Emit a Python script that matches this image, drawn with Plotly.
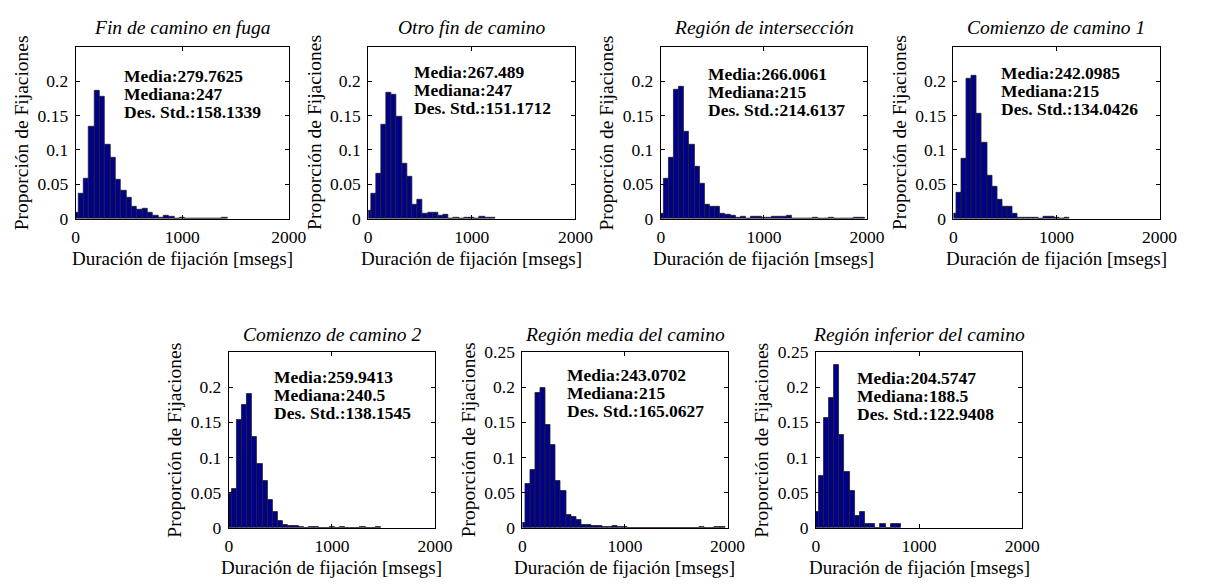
import plotly.graph_objects as go

W, H = 1209, 588

# ---------------- data ----------------
bin_centers = [0, 50, 100, 150, 200, 250, 300, 350, 400, 450, 500, 550, 600, 650, 700,
               750, 800, 850, 900, 950, 1000, 1050, 1100, 1150, 1200, 1250, 1300, 1350,
               1400, 1450, 1500, 1550, 1600, 1650, 1700, 1750, 1800, 1850, 1900, 1950]

titles = ["Fin de camino en fuga", "Otro fin de camino", "Región de intersección",
          "Comienzo de camino 1", "Comienzo de camino 2", "Región media del camino",
          "Región inferior del camino"]

fin_fuga = [0.008, 0.037, 0.058, 0.134, 0.186, 0.178, 0.107, 0.088, 0.056, 0.040, 0.031,
            0.018, 0.013, 0.015, 0.008, 0.005, 0.002, 0.004, 0.003, 0, 0.0015, 0, 0, 0,
            0, 0, 0, 0, 0.0015]
otro_fin = [0.011, 0.037, 0.065, 0.137, 0.183, 0.180, 0.148, 0.080, 0.061, 0.020, 0.027,
            0.007, 0.009, 0.009, 0.004, 0.006, 0, 0.0015, 0, 0.0015, 0.002, 0, 0.0025,
            0.0015, 0.0015]
interseccion = [0.007, 0.058, 0.089, 0.188, 0.1925, 0.127, 0.108, 0.075, 0.051, 0.021,
                0.017, 0.018, 0.007, 0.006, 0.004, 0.002, 0.003, 0, 0.003, 0.003, 0.0015,
                0.002, 0.003, 0.003, 0.003, 0.004, 0, 0, 0, 0, 0.0015, 0, 0, 0.0015, 0, 0,
                0, 0, 0.0015, 0.0015]
comienzo1 = [0.0075, 0.038, 0.087, 0.203, 0.208, 0.153, 0.111, 0.062, 0.047, 0.028, 0.017,
             0.017, 0.0075, 0.002, 0.002, 0.002, 0.0015, 0, 0.0025, 0.0025, 0.0015, 0, 0.002]
comienzo2 = [0.048, 0.055, 0.154, 0.175, 0.190, 0.129, 0.091, 0.067, 0.040, 0.022, 0.009,
             0.004, 0.002, 0.002, 0.0015, 0, 0.0015, 0.0015, 0, 0, 0.0015, 0, 0.0015, 0, 0,
             0, 0.0015, 0, 0, 0.0015]
media_camino = [0.007, 0.063, 0.082, 0.191, 0.1995, 0.146, 0.118, 0.0665, 0.053, 0.018,
                0.016, 0.0105, 0.0046, 0.0037, 0.0023, 0.0023, 0.0014, 0.001, 0.0028,
                0.0018, 0.0014, 0, 0, 0, 0, 0, 0, 0, 0, 0, 0, 0, 0, 0, 0, 0.0014, 0, 0,
                0.0014, 0.0014]
inferior = [0.022, 0.074, 0.156, 0.185, 0.231, 0.132, 0.079, 0.052, 0.017, 0.023, 0.006,
            0.006, 0, 0.006, 0, 0.006, 0.006]

series = [fin_fuga, otro_fin, interseccion, comienzo1, comienzo2, media_camino, inferior]

medias = ["279.7625", "267.489", "266.0061", "242.0985", "259.9413", "243.0702", "204.5747"]
medianas = ["247", "247", "215", "215", "240.5", "215", "188.5"]
desvs = ["158.1339", "151.1712", "214.6137", "134.0426", "138.1545", "165.0627", "122.9408"]

y_ticks_a = [0, 0.05, 0.1, 0.15, 0.2]
y_ticks_b = [0, 0.05, 0.1, 0.15, 0.2, 0.25]
x_ticks = [0, 1000, 2000]

# ---------------- layout (pixels) ----------------
# (left, right, top, bottom) of each axes box
boxes = [(73, 290, 38, 216), (371, 582, 38, 216), (669, 879, 38, 216), (967, 1177, 38, 216),
         (229, 439, 354, 536), (528, 737, 354, 536), (827, 1037, 354, 536)]
title_y = [18, 18, 18, 18, 336, 336, 336]
ytick_sets = [y_ticks_a, y_ticks_a, y_ticks_a, y_ticks_a, y_ticks_a, y_ticks_b, y_ticks_b]
# stat text: left x, first line centre y
stat_pos = [(120, 68), (416, 64), (715, 66), (1013, 65), (273, 380), (571, 378), (867, 381)]
LINE_STEP = 18.7

FONT = "Liberation Serif"
BAR_COLOR = "#00008c"


def px(x):
    return x / W


def py(y):
    return 1 - y / H


fig = go.Figure()
annotations = []
layout = {}
for i, (vals, box) in enumerate(zip(series, boxes)):
    n = i + 1
    l, r, t, b = box
    xa = "x" if n == 1 else f"x{n}"
    ya = "y" if n == 1 else f"y{n}"
    fig.add_trace(go.Bar(
        x=bin_centers[:len(vals)], y=vals, xaxis=xa, yaxis=ya,
        marker=dict(color=BAR_COLOR, line=dict(color="#222222", width=0.8)),
        width=50, showlegend=False, hoverinfo="skip"))
    axis_common = dict(showline=True, mirror="ticks", linecolor="black", linewidth=1,
                       ticks="inside", ticklen=4, tickcolor="black", showgrid=False,
                       zeroline=False, tickfont=dict(family=FONT, size=17.5, color="black"))
    layout["xaxis" if n == 1 else f"xaxis{n}"] = dict(
        domain=[px(l), px(r)], anchor=ya, range=[0, 2000], tickvals=x_ticks,
        ticklabelstandoff=2, **axis_common)
    layout["yaxis" if n == 1 else f"yaxis{n}"] = dict(
        domain=[py(b), py(t)], anchor=xa, range=[0, 0.25], tickvals=ytick_sets[i],
        ticklabelstandoff=3, **axis_common)

    cx = (l + r) / 2
    cy = (t + b) / 2
    # title
    annotations.append(dict(text=f"<i>{titles[i]}</i>", x=px(cx), y=py(title_y[i]),
                            xref="paper", yref="paper", xanchor="center", yanchor="middle",
                            showarrow=False, font=dict(family=FONT, size=19.5, color="black")))
    # x-axis title
    annotations.append(dict(text="Duración de fijación [msegs]", x=px(cx), y=py(b + 41),
                            xref="paper", yref="paper", xanchor="center", yanchor="middle",
                            showarrow=False, font=dict(family=FONT, size=19, color="black")))
    # y-axis title
    annotations.append(dict(text="Proporción de Fijaciones", x=px(l - 55), y=py(cy),
                            xref="paper", yref="paper", xanchor="center", yanchor="middle",
                            textangle=-90, showarrow=False,
                            font=dict(family=FONT, size=19.5, color="black")))
    # stats
    sx, sy = stat_pos[i]
    for k, line in enumerate([f"Media:{medias[i]}", f"Mediana:{medianas[i]}",
                              f"Des. Std.:{desvs[i]}"]):
        annotations.append(dict(text=f"<b>{line}</b>", x=px(sx), y=py(sy + k * LINE_STEP),
                                xref="paper", yref="paper", xanchor="left",
                                yanchor="middle", showarrow=False,
                                font=dict(family=FONT, size=17.5, color="black")))

fig.update_layout(**layout)
fig.update_layout(width=W, height=H, margin=dict(l=0, r=0, t=0, b=0),
                  paper_bgcolor="white", plot_bgcolor="white", bargap=0,
                  annotations=annotations, showlegend=False)

fig.write_html("out.html", config={"displayModeBar": False})
